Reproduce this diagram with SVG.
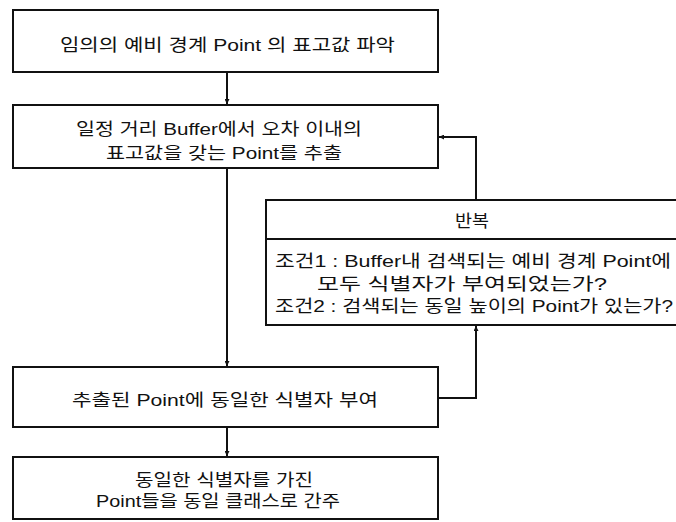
<svg xmlns="http://www.w3.org/2000/svg" width="676" height="522" viewBox="0 0 676 522">
<style>
.box{fill:#fff;stroke:#111;stroke-width:2}
.t{font-family:"Liberation Sans","Noto Sans CJK KR",sans-serif;font-size:17px;fill:#111}
.line{fill:none;stroke:#111;stroke-width:2}
</style>
<defs>
<marker id="ah" viewBox="0 0 10 10" refX="10" refY="5" markerWidth="5" markerHeight="5" orient="auto" markerUnits="userSpaceOnUse">
<path d="M0,0 L10,5 L0,10 z" fill="#111"/>
</marker>
</defs>
<rect width="676" height="522" fill="#fff"/>
<g id="connectors">
<path class="line" d="M227,72 V104" marker-end="url(#ah)"/>
<path class="line" d="M227,168 V366" marker-end="url(#ah)"/>
<path class="line" d="M227,427 V456" marker-end="url(#ah)"/>
<path class="line" d="M438,398 H476 V326" marker-end="url(#ah)"/>
<path class="line" d="M476,200 V137 H439" marker-end="url(#ah)"/>
</g>
<g id="n1">
<rect class="box" x="13" y="10" width="425" height="62"/>
<text class="t" x="60" y="51" textLength="335" lengthAdjust="spacingAndGlyphs">임의의 예비 경계 Point 의 표고값 파악</text>
</g>
<g id="n2">
<rect class="box" x="13" y="105" width="425" height="63"/>
<text class="t" x="76" y="135" textLength="286" lengthAdjust="spacingAndGlyphs">일정 거리 Buffer에서 오차 이내의</text>
<text class="t" x="106" y="159" textLength="236" lengthAdjust="spacingAndGlyphs">표고값을 갖는 Point를 추출</text>
</g>
<g id="n5">
<rect class="box" x="266" y="200" width="430" height="125"/>
<line class="line" x1="266" y1="239" x2="696" y2="239"/>
<text class="t" x="455" y="227" textLength="34" lengthAdjust="spacingAndGlyphs">반복</text>
<text class="t" x="275" y="267" textLength="396" lengthAdjust="spacingAndGlyphs">조건1 : Buffer내 검색되는 예비 경계 Point에</text>
<text class="t" x="317" y="290" textLength="290" lengthAdjust="spacingAndGlyphs">모두 식별자가 부여되었는가?</text>
<text class="t" x="275" y="312" textLength="398" lengthAdjust="spacingAndGlyphs">조건2 : 검색되는 동일 높이의 Point가 있는가?</text>
</g>
<g id="n3">
<rect class="box" x="13" y="367" width="425" height="60"/>
<text class="t" x="72" y="406" textLength="306" lengthAdjust="spacingAndGlyphs">추출된 Point에 동일한 식별자 부여</text>
</g>
<g id="n4">
<rect class="box" x="13" y="457" width="425" height="62"/>
<text class="t" x="135" y="486" textLength="178" lengthAdjust="spacingAndGlyphs">동일한 식별자를 가진</text>
<text class="t" x="96" y="507" textLength="244" lengthAdjust="spacingAndGlyphs">Point들을 동일 클래스로 간주</text>
</g>
</svg>
